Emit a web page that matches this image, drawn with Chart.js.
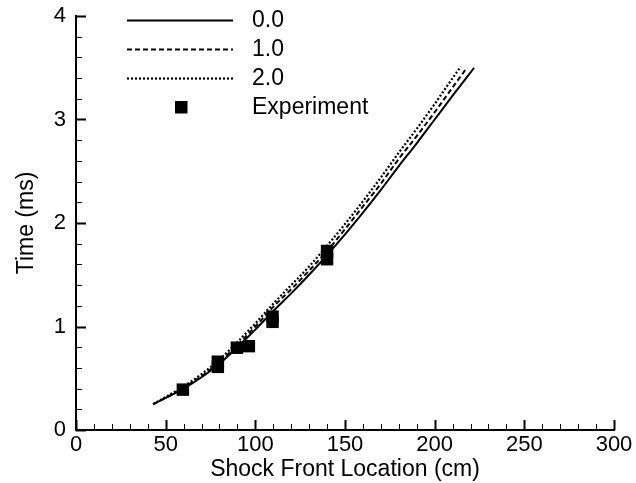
<!DOCTYPE html>
<html><head><meta charset="utf-8">
<script src="https://cdn.jsdelivr.net/npm/chart.js@4.4.1/dist/chart.umd.min.js"></script>
<style>html,body{margin:0;padding:0;background:#fff}#wrap{width:636px;height:483px}</style>
</head><body><div id="wrap"><canvas id="c" width="636" height="483"></canvas></div>
<script>
// ---- data ----
const xSolid  = [43, 50, 60, 70, 80, 90, 100, 110, 120, 130, 140, 150, 160, 170, 180, 190, 200, 210, 222];
const tSolid  = [0.25, 0.31, 0.40, 0.51, 0.64, 0.80, 0.97, 1.15, 1.32, 1.50, 1.69, 1.89, 2.10, 2.32, 2.55, 2.77, 3.00, 3.23, 3.50];
const xDash   = [43, 50, 60, 70, 80, 90, 100, 110, 120, 130, 140, 150, 160, 170, 180, 190, 200, 210, 218];
const tDash   = [0.25, 0.31, 0.41, 0.52, 0.66, 0.82, 1.00, 1.19, 1.36, 1.54, 1.73, 1.94, 2.16, 2.38, 2.62, 2.84, 3.07, 3.31, 3.50];
const xDot    = [43, 50, 60, 70, 80, 90, 100, 110, 120, 130, 140, 150, 160, 170, 180, 190, 200, 210, 214.5];
const tDot    = [0.25, 0.32, 0.42, 0.54, 0.68, 0.85, 1.03, 1.22, 1.40, 1.58, 1.78, 1.99, 2.21, 2.44, 2.68, 2.91, 3.15, 3.40, 3.51];
const xExp    = [59.6, 79.1, 79.1, 89.7, 96.4, 109.6, 109.6, 140, 140];
const tExp    = [0.39, 0.61, 0.66, 0.795, 0.81, 1.045, 1.095, 1.65, 1.73];
const seriesLabels = ['0.0', '1.0', '2.0', 'Experiment'];
const xTickValues = [0, 50, 100, 150, 200, 250, 300];
const yTickValues = [0, 1, 2, 3, 4];

const pts = (xs, ys) => xs.map((x, i) => ({x: x, y: ys[i]}));
const FONT = '"Liberation Sans", Arial, Helvetica, sans-serif';

const inTicks = {
  id: 'inTicks',
  afterDraw(chart) {
    const ctx = chart.ctx, xs = chart.scales.x, ys = chart.scales.y;
    const a = chart.chartArea;
    ctx.save();
    ctx.strokeStyle = '#000';
    for (let v = xs.min; v <= xs.max + 1e-9; v += 10) {
      const major = xTickValues.includes(Math.round(v));
      const p = Math.round(xs.getPixelForValue(v)) + 0.5;
      ctx.lineWidth = major ? 2 : 1;
      ctx.beginPath();
      ctx.moveTo(p, a.bottom);
      ctx.lineTo(p, a.bottom - (major ? 10 : 6));
      ctx.stroke();
    }
    for (let v = ys.min; v <= ys.max + 1e-9; v += 0.2) {
      const major = yTickValues.some(t => Math.abs(t - v) < 1e-6);
      const p = Math.round(ys.getPixelForValue(v)) + 0.5;
      ctx.lineWidth = major ? 2 : 1;
      ctx.beginPath();
      ctx.moveTo(a.left, p);
      ctx.lineTo(a.left + (major ? 10 : 6), p);
      ctx.stroke();
    }
    // legend
    const ds = chart.data.datasets;
    const rowY = [20, 49, 78, 107];
    const x0 = 127, x1 = 233, tx = 252;
    ctx.font = '23px ' + FONT;
    ctx.textBaseline = 'middle';
    ctx.textAlign = 'left';
    ctx.fillStyle = '#000';
    seriesLabels.forEach((lab, i) => {
      const d = ds.find(q => q.label === lab);
      const y = rowY[i];
      if (d.showLine === false) {
        const s = 12.5;
        ctx.fillRect(Math.round((x0 + x1) / 2 - s / 2 + 1), Math.round(y - s / 2), s, s);
      } else {
        ctx.lineWidth = d.borderWidth;
        ctx.setLineDash(d.borderDash || []);
        ctx.beginPath();
        ctx.moveTo(x0, y + 0.5);
        ctx.lineTo(x1, y + 0.5);
        ctx.stroke();
        ctx.setLineDash([]);
      }
      ctx.fillText(lab, tx, y + 1);
    });
    ctx.restore();
  }
};

new Chart(document.getElementById('c'), {
  type: 'scatter',
  data: {
    datasets: [
      { label: seriesLabels[3], data: pts(xExp, tExp), showLine: false, order: 0,
        pointStyle: 'rect', pointRadius: 8.8, pointHoverRadius: 8.8,
        backgroundColor: '#000', borderColor: '#000', pointBorderWidth: 0 },
      { label: seriesLabels[0], data: pts(xSolid, tSolid), showLine: true, order: 1,
        borderColor: '#000', borderWidth: 2, pointRadius: 0, cubicInterpolationMode: 'monotone', borderDash: [] },
      { label: seriesLabels[1], data: pts(xDash, tDash), showLine: true, order: 1,
        borderColor: '#000', borderWidth: 2, pointRadius: 0, cubicInterpolationMode: 'monotone', borderDash: [5, 3] },
      { label: seriesLabels[2], data: pts(xDot, tDot), showLine: true, order: 1,
        borderColor: '#000', borderWidth: 2.2, pointRadius: 0, cubicInterpolationMode: 'monotone', borderDash: [2, 2] }
    ]
  },
  options: {
    responsive: false,
    animation: false,
    devicePixelRatio: 1,
    layout: { padding: { left: 0, right: 22, top: 16, bottom: 0 } },
    plugins: { legend: { display: false }, tooltip: { enabled: false } },
    scales: {
      x: {
        type: 'linear', min: 0, max: 300,
        afterFit: s => { s.height = 53; s.paddingLeft = 0; s.paddingRight = 0; },
        grid: { display: false, drawTicks: false },
        border: { display: true, color: '#000', width: 2 },
        ticks: { stepSize: 50, color: '#000', padding: 2, font: { family: FONT, size: 22 }, maxRotation: 0 },
        title: { display: true, text: 'Shock Front Location (cm)', color: '#000',
                 font: { family: FONT, size: 23 }, padding: { top: 0, bottom: 0 } }
      },
      y: {
        type: 'linear', min: 0, max: 4,
        afterFit: s => { s.width = 76; s.paddingTop = 0; s.paddingBottom = 0; },
        grid: { display: false, drawTicks: false },
        border: { display: true, color: '#000', width: 2 },
        ticks: { stepSize: 1, color: '#000', padding: 10, font: { family: FONT, size: 22 } },
        title: { display: true, text: 'Time (ms)', color: '#000',
                 font: { family: FONT, size: 23 }, padding: { top: 13, bottom: 0 } }
      }
    }
  },
  plugins: [inTicks]
});
</script>
</body></html>
